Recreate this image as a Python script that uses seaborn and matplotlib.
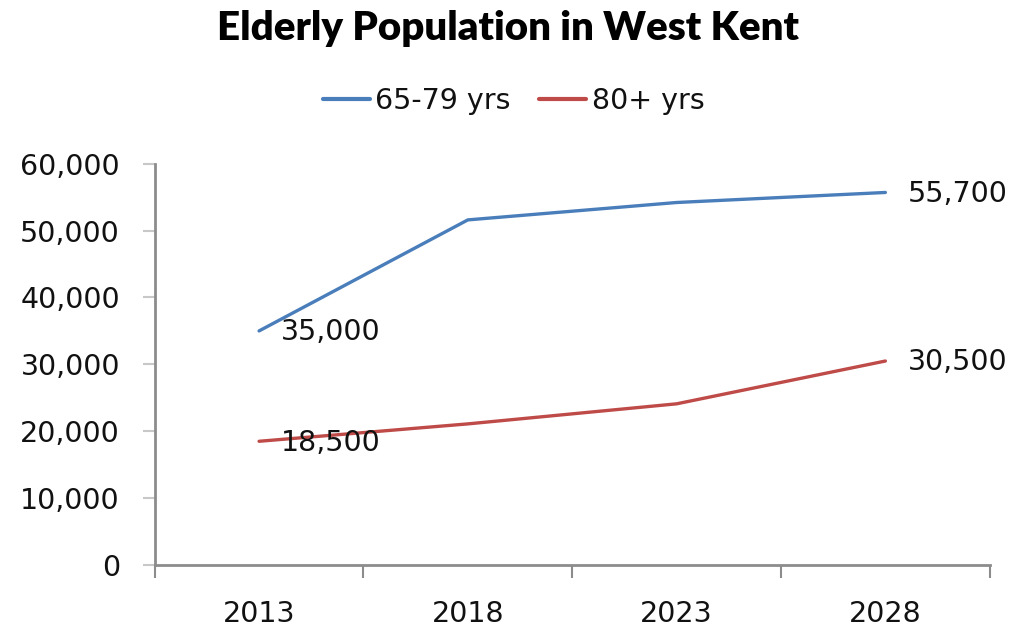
import matplotlib
matplotlib.use("Agg")
import matplotlib.pyplot as plt
import seaborn as sns
import pandas as pd
from matplotlib.ticker import FuncFormatter

# Data
years = ["2013", "2018", "2023", "2028"]
pop_65_79 = [35000, 51600, 54200, 55700]
pop_80_plus = [18500, 21100, 24100, 30500]
series_names = ["65-79 yrs", "80+ yrs"]
series_colors = ["#4A7EBB", "#BE4B48"]

df = pd.DataFrame({
    "year": years * 2,
    "population": pop_65_79 + pop_80_plus,
    "group": [series_names[0]] * len(years) + [series_names[1]] * len(years),
})

sns.set_style("white")
plt.rcParams["font.family"] = ["DejaVu Sans"]
plt.rcParams["text.color"] = "#111111"
plt.rcParams["xtick.color"] = "#111111"
plt.rcParams["ytick.color"] = "#111111"

fs = 20.5

fig = plt.figure(figsize=(10.11, 6.37), dpi=100)
ax = fig.add_axes([0.153, 0.113, 0.826, 0.630])

sns.lineplot(data=df, x="year", y="population", hue="group",
             palette=series_colors, linewidth=2.4, ax=ax, legend=False)

# Data labels on first and last points
for vals in (pop_65_79, pop_80_plus):
    for i in (0, len(years) - 1):
        ax.annotate(f"{vals[i]:,}", xy=(i, vals[i]), xytext=(16, -1),
                    textcoords="offset points", ha="left", va="center",
                    fontsize=fs, color="#111111")

ax.set_ylim(0, 60000)
ax.set_yticks(range(0, 60001, 10000))
ax.yaxis.set_major_formatter(FuncFormatter(lambda v, p: f"{int(v):,}"))
ax.set_xlim(-0.5, len(years) - 0.5)
ax.set_xticks([i - 0.5 for i in range(len(years) + 1)])
ax.set_xticklabels([])
ax.set_xticks(range(len(years)), minor=True)
ax.set_xticklabels(years, minor=True)
ax.tick_params(axis="x", which="minor", bottom=False, length=0, pad=25, labelsize=fs)
ax.tick_params(axis="x", which="major", bottom=True, length=9, width=1.5,
               color="#8c8c8c", direction="out")
ax.tick_params(axis="y", left=True, length=9, width=1.5, color="#c8c8c8",
               direction="out", labelsize=fs, pad=16)
ax.set_xlabel("")
ax.set_ylabel("")

sns.despine(ax=ax)
for side in ("left", "bottom"):
    ax.spines[side].set_color("#8c8c8c")
    ax.spines[side].set_linewidth(2)

# Legend
handles = [plt.Line2D([], [], color=c, linewidth=3) for c in series_colors]
fig.legend(handles, series_names, loc="center", bbox_to_anchor=(0.508, 0.842),
           ncol=2, frameon=False, fontsize=fs, handlelength=1.65,
           handletextpad=0.2, columnspacing=1.0)

fig.text(0.502, 0.955, "Elderly Population in West Kent", ha="center", va="center",
         fontsize=29, fontweight="heavy", color="black", family=["Lato", "DejaVu Sans"])

fig.savefig("out.png", dpi=100)
